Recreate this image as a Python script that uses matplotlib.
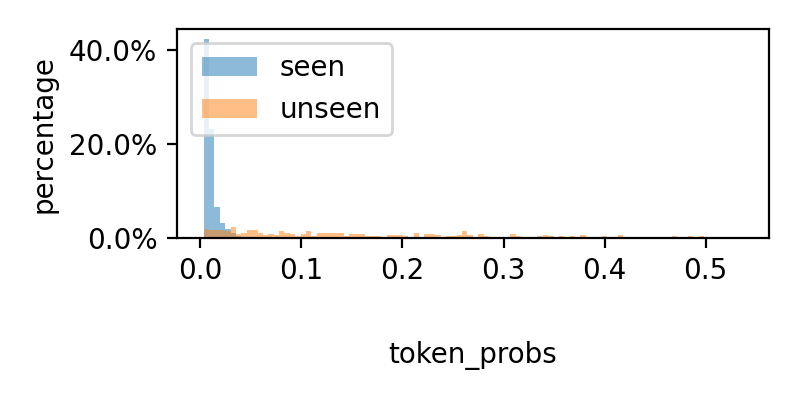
import numpy as np
import matplotlib
matplotlib.use("Agg")
import matplotlib.pyplot as plt
from matplotlib.ticker import PercentFormatter, MultipleLocator

# histogram bin range (token_probs)
bin_lo, bin_hi, n_bins = 0.0032, 0.536, 100

# percentage per bin
seen = [42.2, 23.2, 6.5, 3.2, 2.0, 1.0, 0.5, 0.3, 0.2, 0.2,
        0.1, 0.1, 0.1, 0.1, 0.1, 0.05, 0.05, 0.05, 0.05, 0.05] + [0.0] * 80

unseen = [2.0, 1.8, 1.6, 1.6, 1.4, 2.4, 0.9, 1.1, 1.6, 1.8,
          1.1, 0.6, 0.8, 0.7, 1.4, 1.1, 0.85, 0.35, 0.9, 1.4,
          0.35, 1.1, 1.1, 1.1, 1.1, 1.1, 0.4, 0.9, 0.8, 0.9,
          0.5, 0.5, 0.5, 0.3, 0.7, 0.7, 0.6, 0.5, 0.2, 1.0,
          0.2, 0.8, 0.9, 0.7, 0.2, 0.35, 0.35, 0.6, 1.4, 0.7,
          0.3, 0.9, 0.5, 0.3, 0.3, 0.3, 0.3, 0.9, 0.5, 0.3,
          0.3, 0.3, 0.5, 0.7, 0.5, 0.3, 0.5, 0.15, 0.5, 0.3,
          0.7, 0.3, 0.3, 0.3, 0.5, 0.15, 0.0, 0.7, 0.15, 0.3,
          0.3, 0.3, 0.3, 0.15, 0.0, 0.3, 0.3, 0.5, 0.3, 0.15,
          0.5, 0.3, 0.5, 0.15, 0.3, 0.15, 0.0, 0.0, 0.0, 0.05]

edges = np.linspace(bin_lo, bin_hi, n_bins + 1)
centers = (edges[:-1] + edges[1:]) / 2

fig = plt.figure(figsize=(4, 2), dpi=200)
ax = fig.add_axes([0.221, 0.405, 0.74, 0.5217])

ax.hist(centers, bins=edges, weights=np.array(seen) / 100, alpha=0.5, label="seen")
ax.hist(centers, bins=edges, weights=np.array(unseen) / 100, alpha=0.5, label="unseen")

ax.yaxis.set_major_locator(MultipleLocator(0.2))
ax.yaxis.set_major_formatter(PercentFormatter(1, decimals=1))
ax.set_ylabel("percentage")
ax.set_xlabel("token_probs", labelpad=20)
ax.legend(loc="upper left")

fig.savefig("out.png", dpi=200)
